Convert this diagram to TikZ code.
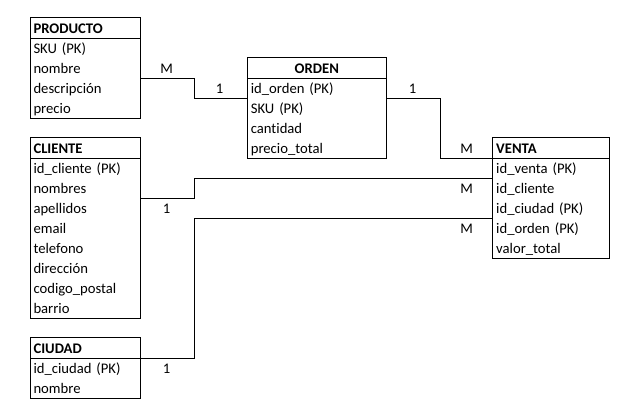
\documentclass[tikz,border=0pt]{standalone}
\usepackage{fontspec}
\setmainfont[Ligatures={NoCommon}]{Carlito}
\begin{document}
\begin{tikzpicture}[x=1pt,y=1pt,line width=1pt,
  every node/.style={font=\fontsize{14.67}{17}\selectfont},
  cell/.style={anchor=north west, inner xsep=3pt, inner ysep=0pt, text height=16pt, text depth=4pt, align=left},
  hdr/.style={cell, font=\fontsize{14.67}{17}\selectfont\bfseries},
  lbl/.style={anchor=base, inner sep=0pt}]
\useasboundingbox (0,0) rectangle (631,-417);
% PRODUCTO
\begin{scope}[every node/.append style={text width=103.3pt}]
\node[hdr] (ph) at (30,-17.3) {PRODUCTO};
\node[cell] (p1) at (30,-37.3) {SKU (PK)};
\node[cell] (p2) at (30,-57.3) {nombre};
\node[cell] (p3) at (30,-77.3) {descripción};
\node[cell] (p4) at (30,-97.3) {precio};
\end{scope}
\draw (ph.north west) rectangle (p4.south east);
\draw (ph.south west) -- (ph.south east);
% CLIENTE
\begin{scope}[every node/.append style={text width=103.3pt}]
\node[hdr] (ch) at (30,-137.3) {CLIENTE};
\node[cell] (c1) at (30,-157.3) {id\_cliente (PK)};
\node[cell] (c2) at (30,-177.3) {nombres};
\node[cell] (c3) at (30,-197.3) {apellidos};
\node[cell] (c4) at (30,-217.3) {email};
\node[cell] (c5) at (30,-237.3) {telefono};
\node[cell] (c6) at (30,-257.3) {dirección};
\node[cell] (c7) at (30,-277.3) {codigo\_postal};
\node[cell] (c8) at (30,-297.3) {barrio};
\end{scope}
\draw (ch.north west) rectangle (c8.south east);
\draw (ch.south west) -- (ch.south east);
% CIUDAD
\begin{scope}[every node/.append style={text width=103.3pt}]
\node[hdr] (zh) at (30,-337.3) {CIUDAD};
\node[cell] (z1) at (30,-357.3) {id\_ciudad (PK)};
\node[cell] (z2) at (30,-377.3) {nombre};
\end{scope}
\draw (zh.north west) rectangle (z2.south east);
\draw (zh.south west) -- (zh.south east);
% ORDEN
\begin{scope}[every node/.append style={text width=132pt}]
\node[hdr, align=center] (oh) at (247.3,-57.3) {ORDEN};
\node[cell] (o1) at (247.3,-77.3) {id\_orden (PK)};
\node[cell] (o2) at (247.3,-97.3) {SKU (PK)};
\node[cell] (o3) at (247.3,-117.3) {cantidad};
\node[cell] (o4) at (247.3,-137.3) {precio\_total};
\end{scope}
\draw (oh.north west) rectangle (o4.south east);
\draw (oh.south west) -- (oh.south east);
% VENTA
\begin{scope}[every node/.append style={text width=110pt}]
\node[hdr] (vh) at (492.7,-137.3) {VENTA};
\node[cell] (v1) at (492.7,-157.3) {id\_venta (PK)};
\node[cell] (v2) at (492.7,-177.3) {id\_cliente};
\node[cell] (v3) at (492.7,-197.3) {id\_ciudad (PK)};
\node[cell] (v4) at (492.7,-217.3) {id\_orden (PK)};
\node[cell] (v5) at (492.7,-237.3) {valor\_total};
\end{scope}
\draw (vh.north west) rectangle (v5.south east);
\draw (vh.south west) -- (vh.south east);
% connectors
\draw (p2.south east) -- ++(54,0) |- (o1.south west);
\draw (o1.south east) -- ++(54,0) |- (vh.south west);
\draw (c2.south east) -- ++(54,0) |- (v1.south west);
\draw (zh.south east) -- ++(54,0) |- (v3.south west);
% labels
\node[lbl] (l1) at (166.7,-73.3) {M};
\node[lbl] (l2) at (219.5,-93.3) {1};
\node[lbl] (l3) at (412.5,-93.3) {1};
\node[lbl] (l4) at (466.7,-153.3) {M};
\node[lbl] (l5) at (466.7,-193.3) {M};
\node[lbl] (l6) at (466.7,-233.3) {M};
\node[lbl] (l7) at (166.7,-213.3) {1};
\node[lbl] (l8) at (166.7,-373.3) {1};
\end{tikzpicture}
\end{document}
